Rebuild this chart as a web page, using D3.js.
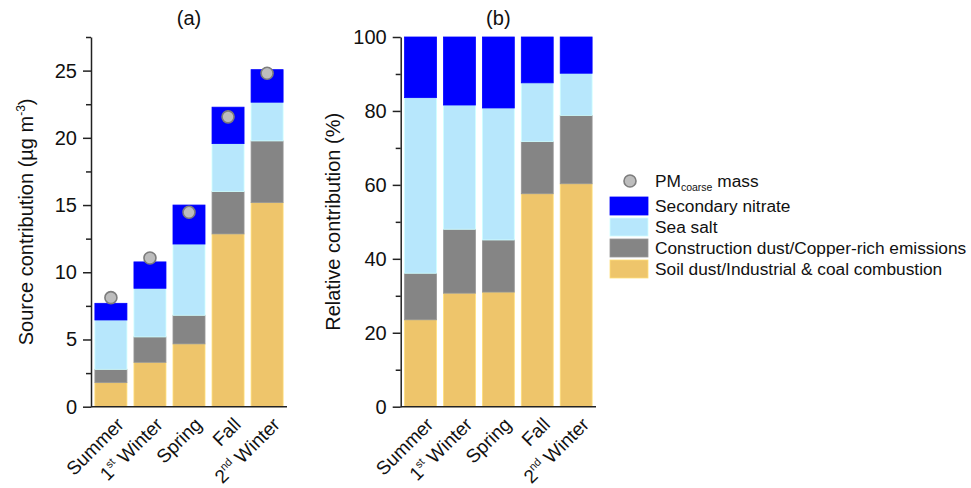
<!DOCTYPE html>
<html>
<head>
<meta charset="utf-8">
<script src="https://cdn.jsdelivr.net/npm/d3@7"></script>
<style>
    body { margin: 0; background: #fff; }
    text { font-family: "Liberation Sans", Arial, sans-serif; fill: #111; }
    .axis path, .axis line { stroke: #222; stroke-width: 1.5; }
</style>
</head>
<body>
<script>

// Seasons, "^" marks the superscript part of a label
var seasons = ["Summer", "1^st^ Winter", "Spring", "Fall", "2^nd^ Winter"];

// Source names, bottom to top of each bar
var sources = [
    "Soil dust/Industrial & coal combustion",
    "Construction dust/Copper-rich emissions",
    "Sea salt",
    "Secondary nitrate"
];
var sourceColors = ["#eec56b", "#858585", "#b7e7fc", "#0000ff"];

// (a) absolute contributions (ug m-3), one array per source
var soilAbs = [1.79, 3.30, 4.67, 12.85, 15.18];
var constructionAbs = [0.99, 1.89, 2.13, 3.15, 4.59];
var seaSaltAbs = [3.67, 3.62, 5.30, 3.57, 2.88];
var nitrateAbs = [1.24, 1.96, 2.90, 2.71, 2.42];

// PMcoarse mass (ug m-3)
var pmCoarse = [8.11, 11.06, 14.46, 21.56, 24.80];

// (b) relative contributions (%)
var soilRel = [23.5, 30.7, 31.0, 57.6, 60.3];
var constructionRel = [12.6, 17.3, 14.1, 14.1, 18.5];
var seaSaltRel = [47.5, 33.6, 35.7, 15.9, 11.4];
var nitrateRel = [16.4, 18.4, 19.2, 12.4, 9.8];

// Axis ticks
var ticksA = [0, 5, 10, 15, 20, 25];
var minorA = [2.5, 7.5, 12.5, 17.5, 22.5, 27.5];
var ticksB = [0, 20, 40, 60, 80, 100];
var minorB = [10, 30, 50, 70, 90];

var svg = d3.select("body").append("svg")
    .attr("width", 971)
    .attr("height", 488);

function buildRows(series) {
    return seasons.map(function(s, i) {
        var row = { season: s };
        sources.forEach(function(src, j) { row[src] = series[j][i]; });
        return row;
    });
}

function addLabel(sel, label, supSize) {
    // write a label with optional superscript part
    var parts = label.split("^");
    parts.forEach(function(p, k) {
        if (p === "") return;
        var t = sel.append("tspan").text(p);
        if (k === 1) {
            t.attr("font-size", supSize).attr("dy", -8);
        } else if (k === 2) {
            t.attr("dy", 8);
        }
    });
}

function drawPanel(opts) {
    var g = svg.append("g");

    var x = d3.scaleBand()
        .domain(seasons)
        .range([opts.left, opts.right])
        .paddingInner(0.18)
        .paddingOuter(0.1);

    var y = d3.scaleLinear()
        .domain(opts.domain)
        .range([opts.bottom, opts.top]);

    var stacked = d3.stack().keys(sources)(buildRows(opts.series));

    g.selectAll(".layer")
        .data(stacked)
        .enter()
        .append("g")
        .attr("fill", function(d, i) { return sourceColors[i]; })
        .attr("stroke", function(d, i) { return d3.color(sourceColors[i]).brighter(0.35); })
        .selectAll("rect")
        .data(function(d) { return d; })
        .enter()
        .append("rect")
        .attr("x", function(d) { return x(d.data.season); })
        .attr("y", function(d) { return y(d[1]); })
        .attr("width", x.bandwidth())
        .attr("height", function(d) { return y(d[0]) - y(d[1]); })
        .attr("stroke-width", 0.8);

    // PM coarse markers
    if (opts.points) {
        g.selectAll(".pm")
            .data(opts.points)
            .enter()
            .append("circle")
            .attr("cx", function(d, i) { return x(seasons[i]) + x.bandwidth() / 2; })
            .attr("cy", function(d) { return y(d); })
            .attr("r", 6)
            .attr("fill", "#bdbdbd")
            .attr("stroke", "#7d7d7d")
            .attr("stroke-width", 1.6);
    }

    // Minor ticks
    g.append("g")
        .attr("class", "axis")
        .attr("transform", `translate(${opts.left}, 0)`)
        .call(d3.axisLeft(y).tickValues(opts.minor).tickSize(5).tickFormat(""))
        .select(".domain").remove();

    // Y axis
    var yAxis = g.append("g")
        .attr("class", "axis")
        .attr("transform", `translate(${opts.left}, 0)`)
        .call(d3.axisLeft(y).tickValues(opts.ticks).tickSize(8).tickSizeOuter(0).tickPadding(6));
    yAxis.selectAll("text")
        .attr("font-size", 20)
        .attr("fill", "#111")
        .attr("font-family", "Liberation Sans, Arial, sans-serif");

    // X axis line
    g.append("line")
        .attr("x1", opts.left)
        .attr("x2", opts.right)
        .attr("y1", opts.bottom)
        .attr("y2", opts.bottom)
        .attr("stroke", "#222")
        .attr("stroke-width", 1.5);

    // Rotated season labels
    seasons.forEach(function(s) {
        var cx = x(s) + x.bandwidth() / 2 + 14;
        var t = g.append("text")
            .attr("transform", `translate(${cx}, ${opts.bottom + 19}) rotate(-45)`)
            .attr("text-anchor", "end")
            .attr("font-size", 19);
        addLabel(t, s, 11);
    });

    // Title
    g.append("text")
        .attr("x", (opts.left + opts.right) / 2)
        .attr("y", 25)
        .attr("text-anchor", "middle")
        .attr("font-size", 20)
        .text(opts.title);

    // Y label
    var lab = g.append("text")
        .attr("transform", `translate(${opts.labelX}, ${(opts.top + opts.bottom) / 2}) rotate(-90)`)
        .attr("text-anchor", "middle")
        .attr("font-size", 20);
    addLabel(lab, opts.label, 12);
}

drawPanel({
    left: 91, right: 287, top: 37, bottom: 406.7,
    domain: [0, 27.5],
    ticks: ticksA, minor: minorA,
    series: [soilAbs, constructionAbs, seaSaltAbs, nitrateAbs],
    points: pmCoarse,
    title: "(a)",
    label: "Source contribution (\u00b5g m^-3^)",
    labelX: 33
});

drawPanel({
    left: 400.7, right: 596, top: 37, bottom: 406.7,
    domain: [0, 100],
    ticks: ticksB, minor: minorB,
    series: [soilRel, constructionRel, seaSaltRel, nitrateRel],
    points: null,
    title: "(b)",
    label: "Relative contribution (%)",
    labelX: 340
});

// Legend
var legend = svg.append("g").attr("transform", "translate(610, 0)");

legend.append("circle")
    .attr("cx", 20)
    .attr("cy", 181)
    .attr("r", 6)
    .attr("fill", "#bdbdbd")
    .attr("stroke", "#7d7d7d")
    .attr("stroke-width", 1.6);

var pmText = legend.append("text")
    .attr("x", 45)
    .attr("y", 187)
    .attr("font-size", 17.3);
pmText.append("tspan").text("PM");
pmText.append("tspan").attr("font-size", 10.5).attr("dy", 4).text("coarse");
pmText.append("tspan").attr("dy", -4).text(" mass");

var legendOrder = [3, 2, 1, 0];
legendOrder.forEach(function(j, k) {
    var yTop = 197 + k * 21;
    legend.append("rect")
        .attr("x", 0)
        .attr("y", yTop)
        .attr("width", 38)
        .attr("height", 18)
        .attr("fill", sourceColors[j])
        .attr("stroke", d3.color(sourceColors[j]).brighter(0.35))
        .attr("stroke-width", 0.8);
    legend.append("text")
        .attr("x", 45)
        .attr("y", yTop + 15)
        .attr("font-size", 17.3)
        .text(sources[j]);
});

</script>
</body>
</html>
